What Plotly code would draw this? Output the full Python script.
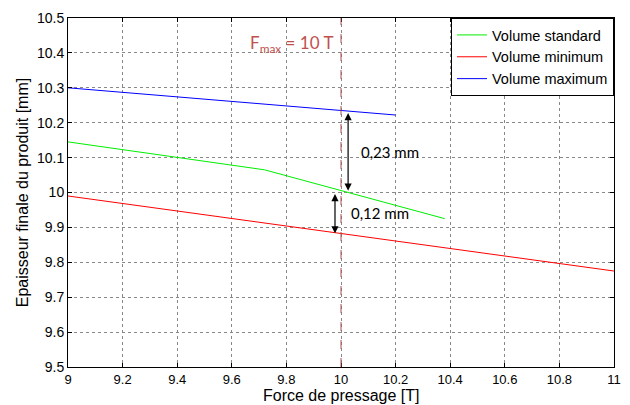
import plotly.graph_objects as go

std_x = [9.0, 9.72, 10.38]
std_y = [10.145, 10.065, 9.925]
min_x = [9.0, 11.0]
min_y = [9.99, 9.775]
max_x = [9.0, 10.2]
max_y = [10.30, 10.222]

x_ticks = [9, 9.2, 9.4, 9.6, 9.8, 10, 10.2, 10.4, 10.6, 10.8, 11]
x_labels = ["9", "9.2", "9.4", "9.6", "9.8", "10", "10.2", "10.4", "10.6", "10.8", "11"]
y_ticks = [9.5, 9.6, 9.7, 9.8, 9.9, 10, 10.1, 10.2, 10.3, 10.4, 10.5]
y_labels = ["9.5", "9.6", "9.7", "9.8", "9.9", "10", "10.1", "10.2", "10.3", "10.4", "10.5"]

fmax = 10
gap_hi = (10.232, 10.005)
gap_lo = (10.0, 9.883)

FONT = "Liberation Sans, Arial, sans-serif"
NOTE_FONT = "Lato, Open Sans, sans-serif"

fig = go.Figure()
fig.add_trace(go.Scatter(x=std_x, y=std_y, mode="lines", name="Volume standard",
                         line=dict(color="#00ee00", width=1)))
fig.add_trace(go.Scatter(x=min_x, y=min_y, mode="lines", name="Volume minimum",
                         line=dict(color="#ff0000", width=1)))
fig.add_trace(go.Scatter(x=max_x, y=max_y, mode="lines", name="Volume maximum",
                         line=dict(color="#0000ff", width=1)))

fig.add_shape(type="line", x0=fmax, x1=fmax, y0=9.5, y1=10.5, xref="x", yref="y",
              line=dict(color="#a85050", width=1, dash="dash"))

fig.add_annotation(x=10.026, y=gap_hi[1], ax=10.026, ay=gap_hi[0], xref="x", yref="y",
                   axref="x", ayref="y", text="", showarrow=True, arrowhead=2,
                   arrowside="end+start", arrowsize=1.2, arrowwidth=1.2, arrowcolor="black")
fig.add_annotation(x=9.978, y=gap_lo[1], ax=9.978, ay=gap_lo[0], xref="x", yref="y",
                   axref="x", ayref="y", text="", showarrow=True, arrowhead=2,
                   arrowside="end+start", arrowsize=1.2, arrowwidth=1.2, arrowcolor="black")
fig.add_annotation(x=10.065, y=10.116, text="0,23 mm", showarrow=False, xanchor="left",
                   font=dict(family=NOTE_FONT, size=15, color="black"))
fig.add_annotation(x=10.03, y=9.942, text="0,12 mm", showarrow=False, xanchor="left",
                   font=dict(family=NOTE_FONT, size=15, color="black"))
fig.add_annotation(x=9.82, y=10.425, text="F<sub>max</sub> = 10 T", showarrow=False,
                   font=dict(family=NOTE_FONT, size=17, color="#c0504d"))

# x-axis title placed as a paper annotation so it sits at the very bottom
fig.add_annotation(x=0.5, y=0, xref="paper", yref="paper", xanchor="center", yanchor="bottom",
                   yshift=-39, text="Force de pressage [T]", showarrow=False,
                   font=dict(family=FONT, size=16, color="black"))

axis_common = dict(showline=True, linecolor="black", linewidth=1, mirror="ticks",
                   ticks="inside", ticklen=4, tickcolor="black",
                   showgrid=True, gridcolor="#888888", griddash="dot", gridwidth=1,
                   zeroline=False, automargin=False)

fig.update_xaxes(range=[9, 11], tickvals=x_ticks, ticktext=x_labels,
                 tickfont=dict(family=FONT, size=13, color="black"), **axis_common)
fig.update_yaxes(range=[9.5, 10.5], tickvals=y_ticks, ticktext=y_labels,
                 tickfont=dict(family=FONT, size=14, color="black"),
                 title=dict(text="Epaisseur finale du produit [mm]", font=dict(family=FONT, size=16, color="black"),
                            standoff=4), **axis_common)

# page body has an 8px margin, so the figure is shrunk and offset accordingly
fig.update_layout(
    width=622, height=397,
    margin=dict(l=60, r=16, t=10, b=38),
    paper_bgcolor="white", plot_bgcolor="white",
    font=dict(family=FONT, size=14, color="black"),
    legend=dict(x=1, y=1, xanchor="right", yanchor="top", bgcolor="white",
                bordercolor="black", borderwidth=1, font=dict(family=FONT, size=14.5),
                tracegroupgap=0, itemwidth=30),
    showlegend=True,
)

fig.write_html("out.html")
